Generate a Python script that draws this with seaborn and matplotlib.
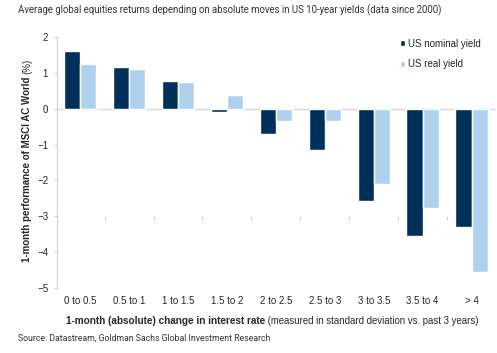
import pandas as pd
import seaborn as sns
import matplotlib.pyplot as plt

categories = ['0 to 0.5', '0.5 to 1', '1 to 1.5', '1.5 to 2', '2 to 2.5',
              '2.5 to 3', '3 to 3.5', '3.5 to 4', '> 4']
nominal = [1.62, 1.17, 0.78, -0.08, -0.70, -1.16, -2.57, -3.54, -3.30]
real = [1.24, 1.10, 0.74, 0.39, -0.34, -0.35, -2.09, -2.77, -4.55]
series = ['US nominal yield', 'US real yield']

df = pd.DataFrame({
    'bucket': categories * 2,
    'perf': nominal + real,
    'series': [series[0]] * len(categories) + [series[1]] * len(categories),
})

sns.set_style('white')
plt.rcParams['font.family'] = ['Liberation Sans', 'DejaVu Sans']

fig = plt.figure(figsize=(4.97, 3.53), dpi=100)
ax = fig.add_axes([0.115, 0.184, 0.883, 0.711])

sns.barplot(data=df, x='bucket', y='perf', hue='series', order=categories,
            hue_order=series, palette=['#00305A', '#AED2EE'], width=0.66,
            saturation=1, ax=ax)

ax.set_xlim(-0.47, 8.5)
ax.set_ylim(-5, 2)
ax.set_yticks(range(-5, 3))
ax.tick_params(axis='y', left=True, labelsize=7, length=2.5, color='#d0d0d0', pad=4)
ax.tick_params(axis='x', bottom=False, labelsize=7, length=0, pad=6)
for s in ['top', 'right', 'bottom']:
    ax.spines[s].set_visible(False)
ax.spines['left'].set_color('#d0d0d0')
ax.spines['left'].set_linewidth(0.8)
ax.set_xlabel('')
ax.set_ylabel('')

# zero line with small ticks between the groups
ax.axhline(0, color='#d9d9d9', lw=1, zorder=0)
zero = ax.secondary_xaxis(2 / 7)
zero.set_xticks([i + 0.5 for i in range(len(categories) - 1)])
zero.tick_params(bottom=True, length=3, width=0.8, color='#d0d0d0', labelbottom=False)
zero.spines['bottom'].set_visible(False)

ax.legend(loc='upper right', bbox_to_anchor=(0.986, 1.028), frameon=False,
          fontsize=7, handlelength=0.6, handleheight=0.6, handletextpad=0.3,
          labelspacing=1.1)

fig.text(0.036, 0.97, 'Average global equities returns depending on absolute moves in US 10-year yields (data since 2000)',
         fontsize=6.95, family='Roboto', color='#333333', va='center')
fig.text(0.036, 0.043, 'Source: Datastream, Goldman Sachs Global Investment Research',
         fontsize=6.3, family='Roboto', color='#333333', va='center')

# x label: bold part followed by normal part
xl = fig.text(0.133, 0.09, '1-month (absolute) change in interest rate', fontsize=7.2,
              fontweight='bold', va='center', ha='left')
fig.add_artist(plt.Annotation(' (measured in standard deviation vs. past 3 years)',
                              xy=(1, 0.5), xycoords=xl, fontsize=6.9,
                              va='center', ha='left'))

# y label: bold part followed by normal part
yl = fig.text(0.055, 1 - 262 / 353, '1-month performance of MSCI AC World', fontsize=7.0,
              fontweight='bold', rotation=90, rotation_mode='anchor', ha='left', va='center')
fig.add_artist(plt.Annotation('(%)', xy=(0.5, 1), xycoords=yl, xytext=(0, 2),
                              textcoords='offset points', fontsize=7.0, rotation=90,
                              ha='center', va='bottom'))

fig.savefig('out.png', dpi=100)
